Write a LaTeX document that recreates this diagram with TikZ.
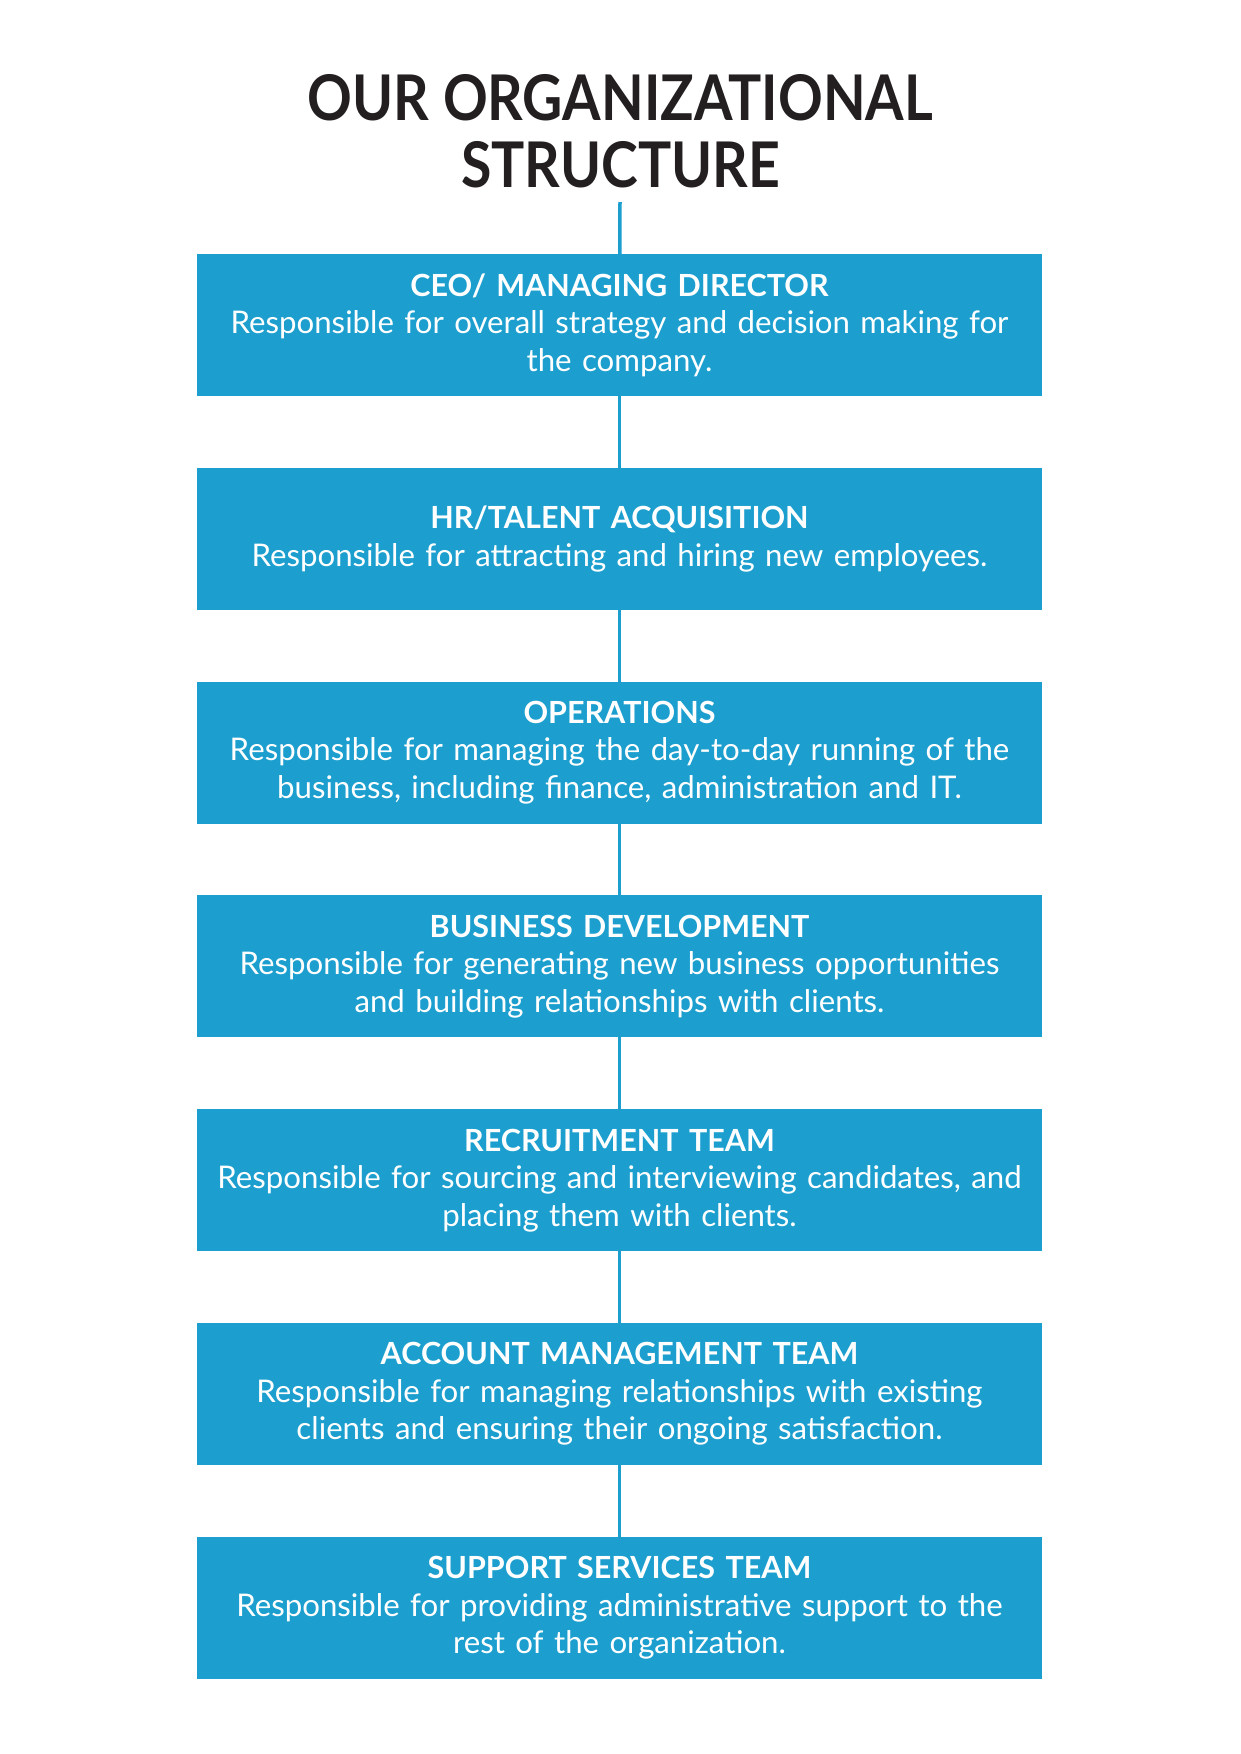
\documentclass[tikz,border=0pt]{standalone}
\usepackage{fontspec}
\setmainfont{Lato}
\newfontfamily\titlefont[FakeStretch=0.88]{Lato}
\usetikzlibrary{positioning}

\definecolor{boxblue}{HTML}{1C9FCF}
\definecolor{titleink}{HTML}{231F20}

\tikzset{
  rolebox/.style={fill=boxblue, text=white, minimum width=845pt, minimum height=142pt,
    text width=840pt, align=center, inner sep=0pt, outer sep=0pt,
    font=\fontsize{31.2}{37.5}\selectfont},
  link/.style={draw=boxblue, line width=3.5pt}
}
\newcommand{\rolehead}[1]{{\fontsize{30.5}{37.5}\selectfont\bfseries #1}\\[0pt]}

\begin{document}
\begin{tikzpicture}[x=1pt, y=1pt, node distance=71.8pt]
    \useasboundingbox[fill=white] (0,0) rectangle (1241,-1754);

    \node (title) [align=center, text=titleink, font=\titlefont\fontsize{63}{67}\selectfont\bfseries] at (620.5,-130.8) {OUR ORGANIZATIONAL\\STRUCTURE};
    \coordinate (top) at (620,-202);

    \node (ceo) [rolebox] at (619.5,-325) {\rolehead{CEO/ MANAGING DIRECTOR}Responsible for overall strategy and decision making for\\the company.};
    \node (hr) [rolebox, below=of ceo] {\rolehead{HR/TALENT ACQUISITION}Responsible for attracting and hiring new employees.};
    \node (ops) [rolebox, below=of hr] {\rolehead{OPERATIONS}Responsible for managing the day-to-day running of the\\business, including finance, administration and IT.};
    \node (bizdev) [rolebox, below=of ops] {\rolehead{BUSINESS DEVELOPMENT}Responsible for generating new business opportunities\\and building relationships with clients.};
    \node (recruit) [rolebox, below=of bizdev] {\rolehead{RECRUITMENT TEAM}Responsible for sourcing and interviewing candidates, and\\placing them with clients.};
    \node (account) [rolebox, below=of recruit] {\rolehead{ACCOUNT MANAGEMENT TEAM}Responsible for managing relationships with existing\\clients and ensuring their ongoing satisfaction.};
    \node (support) [rolebox, below=of account] {\rolehead{SUPPORT SERVICES TEAM}Responsible for providing administrative support to the\\rest of the organization.};

    \draw[link] (top) -- (ceo);
    \draw[link] (ceo) -- (hr);
    \draw[link] (hr) -- (ops);
    \draw[link] (ops) -- (bizdev);
    \draw[link] (bizdev) -- (recruit);
    \draw[link] (recruit) -- (account);
    \draw[link] (account) -- (support);

\end{tikzpicture}
\end{document}
